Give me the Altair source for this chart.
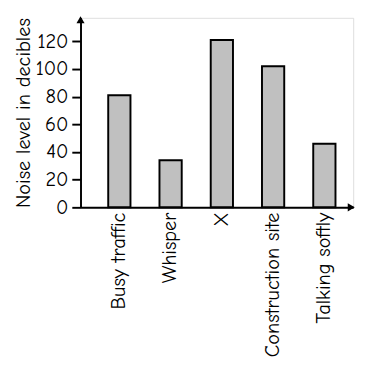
import altair as alt
import pandas as pd

categories = ["Busy traffic", "Whisper", "X", "Construction site", "Talking softly"]
values = [81, 34, 121, 102, 46]

df = pd.DataFrame({"source": categories, "noise": values})

FONT = "Comic Sans MS, Comic Neue, DejaVu Sans"

x_enc = alt.X(
    "source:N",
    sort=categories,
    scale=alt.Scale(paddingInner=0.566, paddingOuter=0.443, align=0.61),
    axis=alt.Axis(
        title=None, labelAngle=-90, ticks=False, labelFontSize=21, labelFont=FONT,
        labelColor="black", domainColor="black", domainWidth=2, labelPadding=5,
        labelAlign="right", labelBaseline="middle",
    ),
)
y_enc = alt.Y(
    "noise:Q",
    scale=alt.Scale(domain=[0, 137], nice=False),
    axis=alt.Axis(
        title="Noise level in decibles", values=[0, 20, 40, 60, 80, 100, 120],
        titleFontSize=21, titleFont=FONT, titleFontWeight="normal", titleColor="black",
        labelFontSize=21, labelFont=FONT, labelColor="black", tickColor="black",
        tickWidth=2, tickSize=9, labelPadding=4, domainColor="black", domainWidth=2,
        grid=False, titlePadding=2,
    ),
)

bars = alt.Chart(df).mark_bar(color="#c0c0c0", stroke="black", strokeWidth=2).encode(
    x=x_enc, y=y_enc
)

arrow_y = alt.Chart(pd.DataFrame({"a": [0]})).mark_point(
    shape="triangle-up", filled=True, color="black", size=70, opacity=1
).encode(x=alt.value(0), y=alt.value(2))
arrow_x = alt.Chart(pd.DataFrame({"a": [0]})).mark_point(
    shape="triangle-right", filled=True, color="black", size=70, opacity=1
).encode(x=alt.value(280), y=alt.value(196))

chart = (
    alt.layer(bars, arrow_y, arrow_x)
    .properties(
        width=282, height=196,
        autosize=alt.AutoSizeParams(type="none"),
        padding={"left": 75, "top": 4, "right": 6, "bottom": 160},
    )
    .configure_view(stroke=None)
    .configure(background="white")
)

chart.save("out.html", embed_options={"renderer": "svg", "actions": False})
